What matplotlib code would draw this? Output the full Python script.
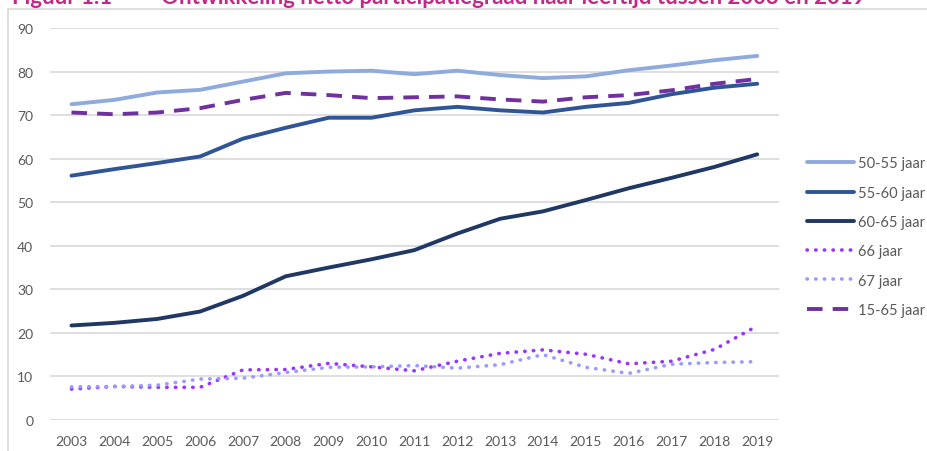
import matplotlib.pyplot as plt
from matplotlib.patches import Rectangle

years = [2003, 2004, 2005, 2006, 2007, 2008, 2009, 2010, 2011,
         2012, 2013, 2014, 2015, 2016, 2017, 2018, 2019]

age_50_55 = [72.5, 73.5, 75.2, 75.8, 77.7, 79.6, 80.0, 80.2, 79.4,
             80.2, 79.2, 78.5, 78.9, 80.3, 81.4, 82.6, 83.6]
age_55_60 = [56.1, 57.6, 59.0, 60.5, 64.6, 67.1, 69.4, 69.4, 71.1,
             71.9, 71.1, 70.6, 71.9, 72.8, 74.8, 76.3, 77.2]
age_60_65 = [21.7, 22.3, 23.2, 24.9, 28.5, 33.0, 35.0, 36.9, 39.0,
             42.8, 46.2, 47.9, 50.5, 53.2, 55.6, 58.1, 61.0]
age_66 = [7.1, 7.7, 7.5, 7.5, 11.5, 11.6, 13.0, 12.2, 11.3,
          13.5, 15.3, 16.1, 15.1, 12.9, 13.5, 16.2, 21.6]
age_67 = [7.6, 7.7, 8.0, 9.4, 9.6, 10.9, 12.1, 12.2, 12.5,
          11.9, 12.7, 15.0, 12.1, 10.7, 12.8, 13.2, 13.4]
age_15_65 = [70.6, 70.2, 70.6, 71.6, 73.5, 75.1, 74.6, 73.9, 74.1,
             74.3, 73.6, 73.1, 74.1, 74.6, 75.7, 77.2, 78.3]

labels = ['50-55 jaar', '55-60 jaar', '60-65 jaar', '66 jaar', '67 jaar', '15-65 jaar']

plt.rcParams['font.family'] = ['Lato', 'DejaVu Sans']
grey = '#595959'

fig = plt.figure(figsize=(9.27, 4.52), dpi=100)
ax = fig.add_axes([0.054, 0.0686, 0.786, 0.8672])

x = list(range(len(years)))
lw = 2.8
ax.plot(x, age_50_55, color='#8FAADC', lw=lw, label=labels[0], solid_capstyle='round')
ax.plot(x, age_55_60, color='#2F5597', lw=lw, label=labels[1], solid_capstyle='round')
ax.plot(x, age_60_65, color='#203864', lw=lw, label=labels[2], solid_capstyle='round')
ax.plot(x, age_66, color='#9933FF', lw=2.6, label=labels[3],
        linestyle=(0, (0.1, 2.3)), dash_capstyle='round')
ax.plot(x, age_67, color='#9999FF', lw=2.6, label=labels[4],
        linestyle=(0, (0.1, 2.3)), dash_capstyle='round')
ax.plot(x, age_15_65, color='#7030A0', lw=lw, label=labels[5],
        linestyle=(0, (4, 2.6)), dash_capstyle='butt')

ax.set_xlim(-0.5, len(years) - 0.5)
ax.set_ylim(0, 90)
ax.set_yticks(range(0, 91, 10))
ax.set_xticks(x)
ax.set_xticklabels([str(y) for y in years])
ax.tick_params(length=0, labelsize=10, labelcolor=grey, pad=11)
ax.tick_params(axis='y', pad=12)
ax.grid(axis='y', color='#D9D9D9', lw=1.2)
ax.set_axisbelow(True)
for s in ax.spines.values():
    s.set_visible(False)

leg = fig.legend(loc='upper left', bbox_to_anchor=(0.871, 0.652), frameon=False,
                 fontsize=10.5, handlelength=3.2, handletextpad=0.3,
                 labelspacing=1.05, borderaxespad=0, borderpad=0)
for t in leg.get_texts():
    t.set_color(grey)

# chart frame
fig.patches.append(Rectangle((8 / 927, -0.1), 1.0, 1.1 - 10 / 452, transform=fig.transFigure,
                             fill=False, edgecolor='#D9D9D9', lw=1.2))

# title, cut off at the top like the source
title_color = '#C4268C'
fig.text(12 / 927, 1 - 3.5 / 452, 'Figuur 1.1', color=title_color, fontsize=16,
         fontweight='bold', va='baseline', ha='left')
fig.text(161 / 927, 1 - 3.5 / 452,
         'Ontwikkeling netto participatiegraad naar leeftijd tussen 2003 en 2019',
         color=title_color, fontsize=16, fontweight='bold', va='baseline', ha='left')

fig.savefig('out.png', dpi=100)
